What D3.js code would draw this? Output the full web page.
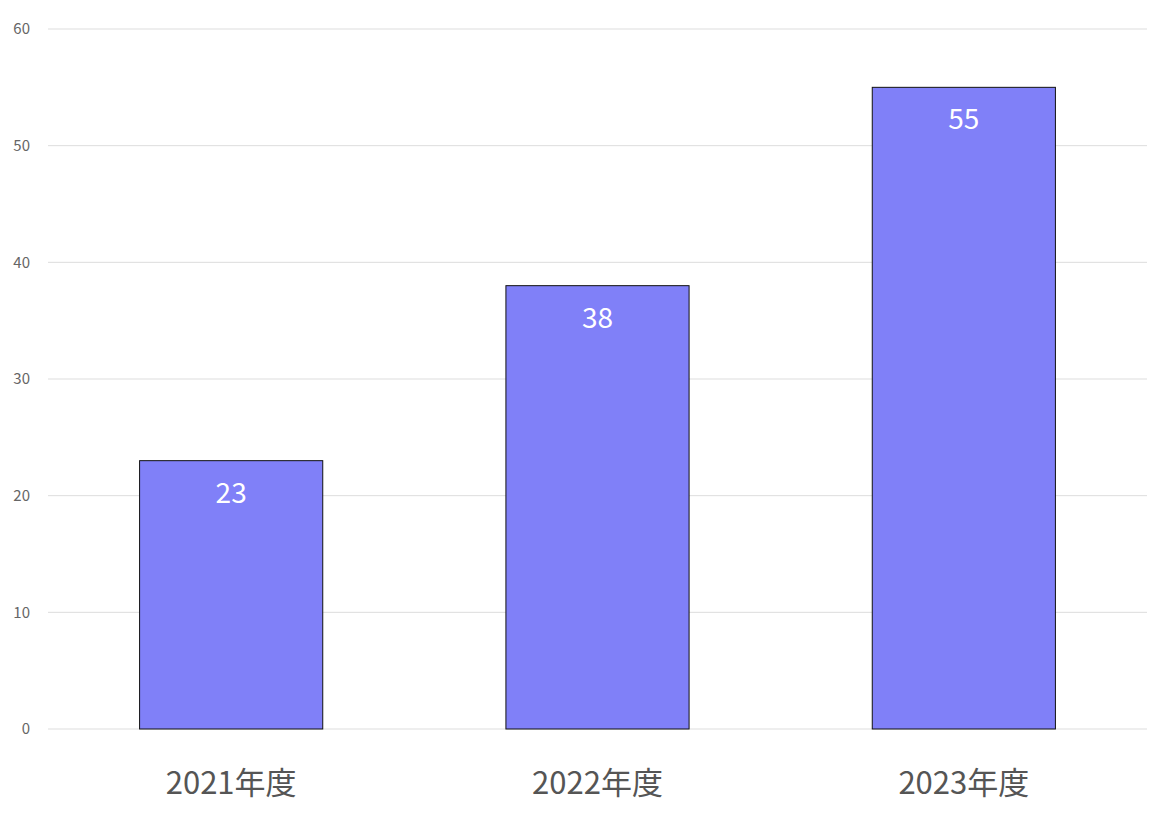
<!DOCTYPE html>
<html><head><meta charset="utf-8">
<script src="https://cdn.jsdelivr.net/npm/d3@7"></script>
<style>body{margin:0;background:#fff}</style></head>
<body><svg id="c" width="1160" height="822"></svg>
<script>
const categories = ["2021年度","2022年度","2023年度"];
const values = [23,38,55];
const yTicks = [0,10,20,30,40,50,60];
const svg = d3.select("#c");
const font = "'Noto Sans CJK JP','Noto Sans',sans-serif";
const x = d3.scaleBand().domain(categories).range([48,1147]).paddingInner(0.5).paddingOuter(0.25);
const y = d3.scaleLinear().domain([0,60]).range([729,29]);
svg.append("g").selectAll("line").data(yTicks).join("line")
  .attr("x1",48).attr("x2",1147).attr("y1",d=>y(d)).attr("y2",d=>y(d))
  .attr("stroke","#ddd").attr("stroke-width",1);
svg.append("g").selectAll("text").data(yTicks).join("text")
  .attr("x",30).attr("y",d=>y(d)).attr("dy","0.35em").attr("text-anchor","end")
  .attr("font-family",font).attr("font-size",15).attr("fill","#666").text(d=>d);
svg.append("g").selectAll("rect").data(values).join("rect")
  .attr("x",(d,i)=>x(categories[i])).attr("width",x.bandwidth())
  .attr("y",d=>y(d)).attr("height",d=>y(0)-y(d))
  .attr("fill","#8080f8").attr("stroke","#111").attr("stroke-width",1);
svg.append("g").selectAll("text").data(values).join("text")
  .attr("x",(d,i)=>x(categories[i])+x.bandwidth()/2).attr("y",d=>y(d)+42)
  .attr("text-anchor","middle").attr("font-family",font).attr("font-size",28)
  .attr("fill","#fff").text(d=>d);
svg.append("g").selectAll("text").data(categories).join("text")
  .attr("x",d=>x(d)+x.bandwidth()/2).attr("y",794)
  .attr("text-anchor","middle").attr("font-family",font).attr("font-size",31)
  .attr("fill","#555").text(d=>d);
</script></body></html>
